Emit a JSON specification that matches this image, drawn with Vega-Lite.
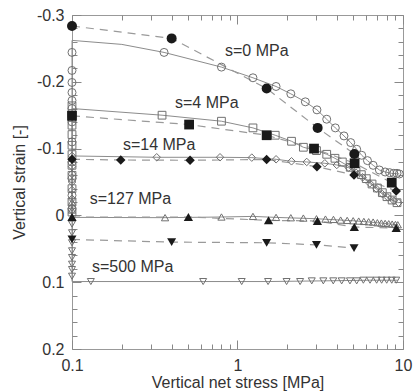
{
  "$schema": "https://vega.github.io/schema/vega-lite/v6.json",
  "width": 331,
  "height": 334,
  "autosize": "none",
  "padding": {"left": 72, "top": 15, "right": 13, "bottom": 43},
  "background": "white",
  "config": {
    "view": {"stroke": "#999", "strokeWidth": 1},
    "font": "Liberation Sans",
    "axis": {"grid": false, "domain": false, "tickColor": "#888", "tickWidth": 1, "labelFont": "Liberation Sans", "labelFontSize": 16, "labelColor": "#333", "titleFont": "Liberation Sans", "titleFontSize": 16, "titleColor": "#333", "titleFontWeight": "normal", "labelFlush": false}
  },
  "datasets": {
    "model": [
      {"s": "0", "i": 0, "x": 0.1, "y": 0},
      {"s": "0", "i": 1, "x": 0.1, "y": -0.262},
      {"s": "0", "i": 2, "x": 0.2, "y": -0.256},
      {"s": "0", "i": 3, "x": 0.36, "y": -0.244},
      {"s": "0", "i": 4, "x": 0.8, "y": -0.222},
      {"s": "0", "i": 5, "x": 1.24, "y": -0.206},
      {"s": "0", "i": 6, "x": 1.71, "y": -0.193},
      {"s": "0", "i": 7, "x": 2.1, "y": -0.182},
      {"s": "0", "i": 8, "x": 2.57, "y": -0.17},
      {"s": "0", "i": 9, "x": 3.02, "y": -0.158},
      {"s": "0", "i": 10, "x": 3.46, "y": -0.144},
      {"s": "0", "i": 11, "x": 3.9, "y": -0.131},
      {"s": "0", "i": 12, "x": 4.4, "y": -0.119},
      {"s": "0", "i": 13, "x": 4.83, "y": -0.109},
      {"s": "0", "i": 14, "x": 5.25, "y": -0.099},
      {"s": "0", "i": 15, "x": 5.63, "y": -0.09},
      {"s": "0", "i": 16, "x": 6.1, "y": -0.082},
      {"s": "0", "i": 17, "x": 6.6, "y": -0.075},
      {"s": "0", "i": 18, "x": 7.2, "y": -0.068},
      {"s": "0", "i": 19, "x": 7.8, "y": -0.065},
      {"s": "0", "i": 20, "x": 8.5, "y": -0.063},
      {"s": "0", "i": 21, "x": 9.5, "y": -0.062},
      {"s": "4", "i": 0, "x": 0.1, "y": 0},
      {"s": "4", "i": 1, "x": 0.1, "y": -0.16},
      {"s": "4", "i": 2, "x": 0.35, "y": -0.15},
      {"s": "4", "i": 3, "x": 0.8, "y": -0.141},
      {"s": "4", "i": 4, "x": 1.24, "y": -0.131},
      {"s": "4", "i": 5, "x": 1.69, "y": -0.12},
      {"s": "4", "i": 6, "x": 2.12, "y": -0.111},
      {"s": "4", "i": 7, "x": 2.5, "y": -0.102},
      {"s": "4", "i": 8, "x": 3.0, "y": -0.097},
      {"s": "4", "i": 9, "x": 3.46, "y": -0.0915},
      {"s": "4", "i": 10, "x": 3.88, "y": -0.0855},
      {"s": "4", "i": 11, "x": 4.8, "y": -0.072},
      {"s": "4", "i": 12, "x": 5.5, "y": -0.062},
      {"s": "4", "i": 13, "x": 6.3, "y": -0.05},
      {"s": "4", "i": 14, "x": 7.3, "y": -0.037},
      {"s": "4", "i": 15, "x": 8.1, "y": -0.026},
      {"s": "4", "i": 16, "x": 9.2, "y": -0.019},
      {"s": "14", "i": 0, "x": 0.1, "y": 0},
      {"s": "14", "i": 1, "x": 0.1, "y": -0.089},
      {"s": "14", "i": 2, "x": 0.325, "y": -0.087},
      {"s": "14", "i": 3, "x": 0.784, "y": -0.087},
      {"s": "14", "i": 4, "x": 1.22, "y": -0.0865},
      {"s": "14", "i": 5, "x": 1.71, "y": -0.084},
      {"s": "14", "i": 6, "x": 2.12, "y": -0.081},
      {"s": "14", "i": 7, "x": 2.62, "y": -0.08},
      {"s": "14", "i": 8, "x": 3.37, "y": -0.078},
      {"s": "14", "i": 9, "x": 3.98, "y": -0.0755},
      {"s": "14", "i": 10, "x": 4.7, "y": -0.0714},
      {"s": "14", "i": 11, "x": 5.5, "y": -0.06},
      {"s": "14", "i": 12, "x": 6.3, "y": -0.048},
      {"s": "14", "i": 13, "x": 7.5, "y": -0.032},
      {"s": "14", "i": 14, "x": 8.5, "y": -0.024},
      {"s": "14", "i": 15, "x": 9.4, "y": -0.019},
      {"s": "127", "i": 0, "x": 0.1, "y": -0.02},
      {"s": "127", "i": 1, "x": 0.1, "y": 0.003},
      {"s": "127", "i": 2, "x": 0.365, "y": 0.0034},
      {"s": "127", "i": 3, "x": 0.8, "y": 0.0024},
      {"s": "127", "i": 4, "x": 1.24, "y": 0.0015},
      {"s": "127", "i": 5, "x": 1.71, "y": 0.003},
      {"s": "127", "i": 6, "x": 3.0, "y": 0.005},
      {"s": "127", "i": 7, "x": 5.0, "y": 0.008},
      {"s": "127", "i": 8, "x": 7.0, "y": 0.011},
      {"s": "127", "i": 9, "x": 9.3, "y": 0.014},
      {"s": "500", "i": 0, "x": 0.1, "y": 0},
      {"s": "500", "i": 1, "x": 0.1, "y": 0.099},
      {"s": "500", "i": 2, "x": 0.62, "y": 0.099},
      {"s": "500", "i": 3, "x": 1.53, "y": 0.099},
      {"s": "500", "i": 4, "x": 3.3, "y": 0.098},
      {"s": "500", "i": 5, "x": 6.3, "y": 0.097},
      {"s": "500", "i": 6, "x": 9.3, "y": 0.097}
    ],
    "modelPts": [
      {"s": "0", "x": 0.1, "y": -0.01}, {"s": "0", "x": 0.1, "y": -0.03}, {"s": "0", "x": 0.1, "y": -0.055}, {"s": "0", "x": 0.1, "y": -0.08},
      {"s": "0", "x": 0.1, "y": -0.11}, {"s": "0", "x": 0.1, "y": -0.14}, {"s": "0", "x": 0.1, "y": -0.16}, {"s": "0", "x": 0.1, "y": -0.172},
      {"s": "0", "x": 0.1, "y": -0.184}, {"s": "0", "x": 0.1, "y": -0.199}, {"s": "0", "x": 0.1, "y": -0.217}, {"s": "0", "x": 0.1, "y": -0.244},
      {"s": "0", "x": 0.36, "y": -0.244}, {"s": "0", "x": 0.8, "y": -0.222}, {"s": "0", "x": 1.24, "y": -0.206}, {"s": "0", "x": 1.71, "y": -0.193},
      {"s": "0", "x": 2.1, "y": -0.182}, {"s": "0", "x": 2.57, "y": -0.17}, {"s": "0", "x": 3.02, "y": -0.158}, {"s": "0", "x": 3.46, "y": -0.144},
      {"s": "0", "x": 3.9, "y": -0.131}, {"s": "0", "x": 4.4, "y": -0.119}, {"s": "0", "x": 4.83, "y": -0.109}, {"s": "0", "x": 5.25, "y": -0.099},
      {"s": "0", "x": 5.63, "y": -0.09}, {"s": "0", "x": 6.1, "y": -0.082}, {"s": "0", "x": 6.6, "y": -0.075}, {"s": "0", "x": 7.2, "y": -0.068},
      {"s": "0", "x": 7.8, "y": -0.065}, {"s": "0", "x": 8.3, "y": -0.064}, {"s": "0", "x": 8.8, "y": -0.063}, {"s": "0", "x": 9.2, "y": -0.063}, {"s": "0", "x": 9.5, "y": -0.062},
      {"s": "4", "x": 0.1, "y": -0.005}, {"s": "4", "x": 0.1, "y": -0.02}, {"s": "4", "x": 0.1, "y": -0.04}, {"s": "4", "x": 0.1, "y": -0.06},
      {"s": "4", "x": 0.1, "y": -0.075}, {"s": "4", "x": 0.1, "y": -0.091}, {"s": "4", "x": 0.1, "y": -0.105}, {"s": "4", "x": 0.1, "y": -0.121},
      {"s": "4", "x": 0.1, "y": -0.135}, {"s": "4", "x": 0.1, "y": -0.152}, {"s": "4", "x": 0.1, "y": -0.164},
      {"s": "4", "x": 0.35, "y": -0.15}, {"s": "4", "x": 0.8, "y": -0.141}, {"s": "4", "x": 1.24, "y": -0.131}, {"s": "4", "x": 1.69, "y": -0.12},
      {"s": "4", "x": 2.12, "y": -0.111}, {"s": "4", "x": 2.5, "y": -0.102}, {"s": "4", "x": 3.0, "y": -0.097}, {"s": "4", "x": 3.46, "y": -0.0915},
      {"s": "4", "x": 3.88, "y": -0.0855}, {"s": "4", "x": 4.3, "y": -0.08}, {"s": "4", "x": 4.8, "y": -0.072}, {"s": "4", "x": 5.2, "y": -0.066},
      {"s": "4", "x": 5.6, "y": -0.061}, {"s": "4", "x": 6.0, "y": -0.055}, {"s": "4", "x": 6.5, "y": -0.047}, {"s": "4", "x": 7.0, "y": -0.041},
      {"s": "4", "x": 7.5, "y": -0.034}, {"s": "4", "x": 8.0, "y": -0.028}, {"s": "4", "x": 8.6, "y": -0.023}, {"s": "4", "x": 9.2, "y": -0.019},
      {"s": "14", "x": 0.1, "y": -0.012}, {"s": "14", "x": 0.1, "y": -0.025}, {"s": "14", "x": 0.1, "y": -0.038}, {"s": "14", "x": 0.1, "y": -0.05},
      {"s": "14", "x": 0.1, "y": -0.062}, {"s": "14", "x": 0.1, "y": -0.073}, {"s": "14", "x": 0.1, "y": -0.089},
      {"s": "14", "x": 0.325, "y": -0.087}, {"s": "14", "x": 0.784, "y": -0.087}, {"s": "14", "x": 1.22, "y": -0.0865}, {"s": "14", "x": 1.71, "y": -0.084},
      {"s": "14", "x": 2.12, "y": -0.081}, {"s": "14", "x": 2.62, "y": -0.08}, {"s": "14", "x": 3.37, "y": -0.078}, {"s": "14", "x": 3.98, "y": -0.0755},
      {"s": "14", "x": 4.7, "y": -0.0714}, {"s": "14", "x": 5.2, "y": -0.064}, {"s": "14", "x": 5.7, "y": -0.057}, {"s": "14", "x": 6.3, "y": -0.048},
      {"s": "14", "x": 6.9, "y": -0.04}, {"s": "14", "x": 7.5, "y": -0.032}, {"s": "14", "x": 8.1, "y": -0.027}, {"s": "14", "x": 8.8, "y": -0.022}, {"s": "14", "x": 9.4, "y": -0.019},
      {"s": "127", "x": 0.1, "y": -0.02}, {"s": "127", "x": 0.1, "y": -0.008}, {"s": "127", "x": 0.1, "y": 0.003},
      {"s": "127", "x": 0.365, "y": 0.0034}, {"s": "127", "x": 0.8, "y": 0.0024}, {"s": "127", "x": 1.24, "y": 0.0015}, {"s": "127", "x": 1.71, "y": 0.003},
      {"s": "127", "x": 2.1, "y": 0.0035}, {"s": "127", "x": 2.5, "y": 0.004}, {"s": "127", "x": 3.0, "y": 0.005}, {"s": "127", "x": 3.4, "y": 0.0055},
      {"s": "127", "x": 3.8, "y": 0.006}, {"s": "127", "x": 4.2, "y": 0.007}, {"s": "127", "x": 4.6, "y": 0.0075}, {"s": "127", "x": 5.0, "y": 0.008},
      {"s": "127", "x": 5.4, "y": 0.0085}, {"s": "127", "x": 5.8, "y": 0.009}, {"s": "127", "x": 6.2, "y": 0.0095}, {"s": "127", "x": 6.6, "y": 0.01},
      {"s": "127", "x": 7.0, "y": 0.011}, {"s": "127", "x": 7.4, "y": 0.0115}, {"s": "127", "x": 7.8, "y": 0.012}, {"s": "127", "x": 8.2, "y": 0.0125},
      {"s": "127", "x": 8.6, "y": 0.013}, {"s": "127", "x": 9.0, "y": 0.0135}, {"s": "127", "x": 9.3, "y": 0.014},
      {"s": "500", "x": 0.1, "y": 0.013}, {"s": "500", "x": 0.1, "y": 0.026}, {"s": "500", "x": 0.1, "y": 0.041}, {"s": "500", "x": 0.1, "y": 0.053},
      {"s": "500", "x": 0.1, "y": 0.063}, {"s": "500", "x": 0.1, "y": 0.073}, {"s": "500", "x": 0.1, "y": 0.081}, {"s": "500", "x": 0.1, "y": 0.091},
      {"s": "500", "x": 0.13, "y": 0.099}, {"s": "500", "x": 0.62, "y": 0.099}, {"s": "500", "x": 1.06, "y": 0.099}, {"s": "500", "x": 1.53, "y": 0.099},
      {"s": "500", "x": 1.98, "y": 0.099}, {"s": "500", "x": 2.39, "y": 0.099}, {"s": "500", "x": 2.81, "y": 0.098}, {"s": "500", "x": 3.3, "y": 0.098},
      {"s": "500", "x": 3.79, "y": 0.098}, {"s": "500", "x": 4.26, "y": 0.098}, {"s": "500", "x": 4.78, "y": 0.098}, {"s": "500", "x": 5.25, "y": 0.098},
      {"s": "500", "x": 5.76, "y": 0.097}, {"s": "500", "x": 6.32, "y": 0.097}, {"s": "500", "x": 6.93, "y": 0.097}, {"s": "500", "x": 7.43, "y": 0.097},
      {"s": "500", "x": 7.97, "y": 0.097}, {"s": "500", "x": 8.55, "y": 0.097}, {"s": "500", "x": 9.1, "y": 0.097}
    ],
    "exp": [
      {"s": "0", "x": 0.1, "y": -0.2835}, {"s": "0", "x": 0.4, "y": -0.265}, {"s": "0", "x": 1.5, "y": -0.19}, {"s": "0", "x": 3.05, "y": -0.131}, {"s": "0", "x": 5.08, "y": -0.092},
      {"s": "4", "x": 0.1, "y": -0.149}, {"s": "4", "x": 0.51, "y": -0.136}, {"s": "4", "x": 1.5, "y": -0.12}, {"s": "4", "x": 2.9, "y": -0.1}, {"s": "4", "x": 5.1, "y": -0.078}, {"s": "4", "x": 8.55, "y": -0.049},
      {"s": "14", "x": 0.1, "y": -0.084}, {"s": "14", "x": 0.197, "y": -0.083}, {"s": "14", "x": 0.517, "y": -0.0825}, {"s": "14", "x": 1.5, "y": -0.0837}, {"s": "14", "x": 3.02, "y": -0.073}, {"s": "14", "x": 5.06, "y": -0.0605}, {"s": "14", "x": 9.1, "y": -0.0365},
      {"s": "127", "x": 0.1, "y": 0.0024}, {"s": "127", "x": 0.505, "y": 0.0024}, {"s": "127", "x": 1.54, "y": 0.0074}, {"s": "127", "x": 3.04, "y": 0.0084}, {"s": "127", "x": 5.08, "y": 0.0174}, {"s": "127", "x": 9.1, "y": 0.019},
      {"s": "500", "x": 0.1, "y": 0.036}, {"s": "500", "x": 0.4, "y": 0.04}, {"s": "500", "x": 1.5, "y": 0.041}, {"s": "500", "x": 3.0, "y": 0.044}, {"s": "500", "x": 5.06, "y": 0.049}
    ],
    "labels": [
      {"t": "s=0 MPa", "x": 0.84, "y": -0.246},
      {"t": "s=4 MPa", "x": 0.419, "y": -0.168},
      {"t": "s=14 MPa", "x": 0.203, "y": -0.105},
      {"t": "s=127 MPa", "x": 0.128, "y": -0.0246},
      {"t": "s=500 MPa", "x": 0.132, "y": 0.077}
    ]
  },
  "resolve": {"axis": {"x": "independent", "y": "independent"}, "scale": {"size": "independent"}},
  "layer": [
    {
      "data": {"name": "model"},
      "mark": {"type": "line", "color": "#8c8c8c", "strokeWidth": 1},
      "encoding": {
        "x": {"field": "x", "type": "quantitative", "scale": {"type": "log", "domain": [0.1, 10], "nice": false},
              "axis": {"orient": "bottom", "values": [0.1, 1, 10], "tickSize": -9, "labelPadding": 17, "labelExpr": "datum.value < 0.5 ? '0.1' : (datum.value < 5 ? '1' : '10')", "title": "Vertical net stress [MPa]", "titlePadding": 1}},
        "y": {"field": "y", "type": "quantitative", "scale": {"domain": [-0.3, 0.2], "reverse": true, "nice": false, "zero": false},
              "axis": {"orient": "left", "values": [-0.3, -0.2, -0.1, 0, 0.1, 0.2], "tickSize": -9, "labelPadding": 17, "labelExpr": "datum.value == 0 ? '0' : (datum.value < 0 ? '-' : '') + abs(datum.value)", "title": "Vertical strain [-]", "titlePadding": 9}},
        "detail": {"field": "s"},
        "order": {"field": "i"}
      }
    },
    {
      "data": {"name": "exp"},
      "mark": {"type": "line", "color": "#9a9a9a", "strokeWidth": 1.2, "strokeDash": [8, 6]},
      "encoding": {
        "x": {"field": "x", "type": "quantitative", "scale": {"type": "log", "domain": [0.1, 10], "nice": false},
              "axis": {"orient": "bottom", "values": [0.2, 0.3, 0.4, 0.5, 0.6, 0.7, 0.8, 0.9, 2, 3, 4, 5, 6, 7, 8, 9], "tickSize": -5, "labels": false, "title": null}},
        "y": {"field": "y", "type": "quantitative", "scale": {"domain": [-0.3, 0.2], "reverse": true, "nice": false, "zero": false},
              "axis": {"orient": "left", "values": [-0.28, -0.26, -0.24, -0.22, -0.18, -0.16, -0.14, -0.12, -0.08, -0.06, -0.04, -0.02, 0.02, 0.04, 0.06, 0.08, 0.12, 0.14, 0.16, 0.18], "tickSize": -5, "labels": false, "title": null}},
        "detail": {"field": "s"}
      }
    },
    {
      "data": {"name": "modelPts"},
      "mark": {"type": "point", "filled": false, "color": "#707070", "strokeWidth": 1, "opacity": 1},
      "encoding": {
        "x": {"field": "x", "type": "quantitative", "scale": {"type": "log", "domain": [0.1, 10], "nice": false},
              "axis": {"orient": "top", "values": [0.1, 1, 10], "tickSize": -9, "labels": false, "title": null}},
        "y": {"field": "y", "type": "quantitative", "scale": {"domain": [-0.3, 0.2], "reverse": true, "nice": false, "zero": false},
              "axis": {"orient": "right", "values": [-0.3, -0.2, -0.1, 0, 0.1, 0.2], "tickSize": -9, "labels": false, "title": null}},
        "shape": {"field": "s", "type": "nominal", "scale": {"domain": ["0", "4", "14", "127", "500"], "range": ["circle", "square", "diamond", "triangle-up", "triangle-down"]}, "legend": null},
        "size": {"field": "s", "type": "nominal", "scale": {"domain": ["0", "4", "14", "127", "500"], "range": [64, 49, 49, 56, 56]}, "legend": null}
      }
    },
    {
      "data": {"name": "exp"},
      "mark": {"type": "point", "filled": true, "color": "#1a1a1a", "opacity": 1},
      "encoding": {
        "x": {"field": "x", "type": "quantitative", "scale": {"type": "log", "domain": [0.1, 10], "nice": false},
              "axis": {"orient": "top", "values": [0.2, 0.3, 0.4, 0.5, 0.6, 0.7, 0.8, 0.9, 2, 3, 4, 5, 6, 7, 8, 9], "tickSize": -5, "labels": false, "title": null}},
        "y": {"field": "y", "type": "quantitative", "scale": {"domain": [-0.3, 0.2], "reverse": true, "nice": false, "zero": false},
              "axis": {"orient": "right", "values": [-0.28, -0.26, -0.24, -0.22, -0.18, -0.16, -0.14, -0.12, -0.08, -0.06, -0.04, -0.02, 0.02, 0.04, 0.06, 0.08, 0.12, 0.14, 0.16, 0.18], "tickSize": -5, "labels": false, "title": null}},
        "shape": {"field": "s", "type": "nominal", "scale": {"domain": ["0", "4", "14", "127", "500"], "range": ["circle", "square", "diamond", "triangle-up", "triangle-down"]}, "legend": null},
        "size": {"field": "s", "type": "nominal", "scale": {"domain": ["0", "4", "14", "127", "500"], "range": [100, 81, 56, 72, 72]}, "legend": null}
      }
    },
    {
      "data": {"name": "labels"},
      "mark": {"type": "text", "align": "left", "baseline": "middle", "fontSize": 16, "font": "Liberation Sans", "color": "#333"},
      "encoding": {
        "x": {"field": "x", "type": "quantitative", "scale": {"type": "log", "domain": [0.1, 10], "nice": false}, "axis": null},
        "y": {"field": "y", "type": "quantitative", "scale": {"domain": [-0.3, 0.2], "reverse": true, "nice": false, "zero": false}, "axis": null},
        "text": {"field": "t"}
      }
    }
  ]
}
